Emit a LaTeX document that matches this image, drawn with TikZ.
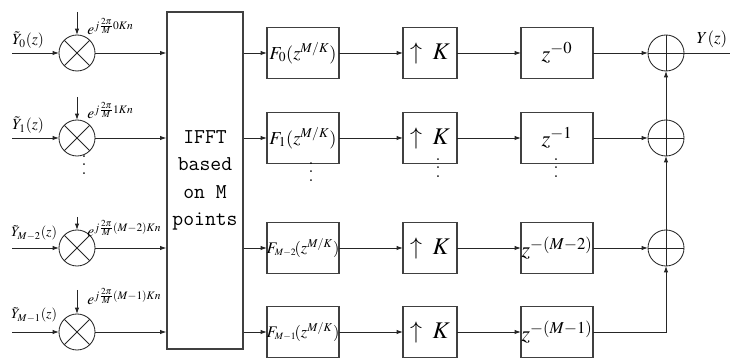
\documentclass[tikz,border=0pt]{standalone}
\usepackage{amsmath}
\usepackage{mathptmx}
\usetikzlibrary{arrows.meta, positioning}

\tikzset{
  line/.style={line width=0.6pt, black!85},
  arr/.style={line, -{Latex[length=1.6mm, width=1.1mm]}},
  blk/.style={draw=black!75, line width=0.8pt, minimum width=1.8cm, minimum height=1.275cm,
              inner sep=0pt, outer sep=0pt, font=\fontsize{13}{15}\selectfont},
  upblk/.style={blk, minimum width=1.35cm, font=\fontsize{17}{19}\selectfont},
  dlyblk/.style={blk, font=\fontsize{16}{18}\selectfont},
  mult/.style={circle, draw=black!85, line width=0.6pt, minimum size=0.9cm, inner sep=0pt, outer sep=0pt},
  adder/.style={mult},
  sig/.style={font=\fontsize{11}{13}\selectfont, inner sep=0pt, anchor=base west},
  expo/.style={font=\fontsize{11}{13}\selectfont, inner sep=0pt, anchor=base west},
  dots/.style={inner sep=0pt, font=\fontsize{13}{13}\selectfont}
}
\newcommand{\vdotsx}{\vbox{\baselineskip=6pt\lineskiplimit=0pt\hbox{.}\hbox{.}\hbox{.}}}

\begin{document}
\begin{tikzpicture}[x=0.025cm, y=-0.025cm]
\useasboundingbox (0,0) rectangle (732,359);

% --- Multipliers ---
\node[mult] (m0) at (77,53) {};
\node[mult] (m1) at (77,138) {};
\node[mult] (m2) at (77,248) {};
\node[mult] (m3) at (77,332) {};
\foreach \m in {m0,m1,m2,m3} {
  \draw[line] (\m.north west) -- (\m.south east);
  \draw[line] (\m.north east) -- (\m.south west);
}

% inputs
\coordinate (in0) at (12,53);
\coordinate (in1) at (12,138);
\coordinate (in2) at (12,248);
\coordinate (in3) at (12,332);
\node[sig] (y0) at (12,45) {$\tilde{Y}_0(z)$};
\node[sig] (y1) at (12,130) {$\tilde{Y}_1(z)$};
\node[sig, font=\fontsize{10}{12}\selectfont] (y2) at (11,237) {$\tilde{Y}_{M-2}(z)$};
\node[sig, font=\fontsize{10}{12}\selectfont] (y3) at (11,319) {$\tilde{Y}_{M-1}(z)$};
\draw[arr] (in0) -- (m0);
\draw[arr] (in1) -- (m1);
\draw[arr] (in2) -- (m2);
\draw[arr] (in3) -- (m3);

% exponentials
\coordinate (ex0) at (77,12);
\coordinate (ex1) at (77,97);
\coordinate (ex2) at (77,217);
\coordinate (ex3) at (77,290);
\draw[arr] (ex0) -- (m0);
\draw[arr] (ex1) -- (m1);
\draw[arr] (ex2) -- (m2);
\draw[arr] (ex3) -- (m3);
\node[expo] (e0) at (87,35) {$e^{j\frac{2\pi}{M}0Kn}$};
\node[expo] (e1) at (87,119) {$e^{j\frac{2\pi}{M}1Kn}$};
\node[expo] (e2) at (87,237) {$e^{j\frac{2\pi}{M}(M-2)Kn}$};
\node[expo] (e3) at (87,305) {$e^{j\frac{2\pi}{M}(M-1)Kn}$};

\node[dots] (v0) at (84,165) {\vdotsx};

% --- IFFT ---
\node[draw=black!75, line width=0.8pt, minimum width=1.9cm, minimum height=8.425cm,
      inner sep=0pt, align=center, font=\ttfamily\fontsize{15}{19.5}\selectfont]
      (ifft) at (205,180.5) {IFFT\\based\\on M\\points};
\draw[arr] (m0.east) -- (m0.east -| ifft.west);
\draw[arr] (m1.east) -- (m1.east -| ifft.west);
\draw[arr] (m2.east) -- (m2.east -| ifft.west);
\draw[arr] (m3.east) -- (m3.east -| ifft.west);

% --- Polyphase filters ---
\node[blk] (f0) at (303,53) {$F_0(z^{M/K})$};
\node[blk] (f1) at (303,138) {$F_1(z^{M/K})$};
\node[blk, font=\fontsize{11.5}{13}\selectfont] (f2) at (303,248)
     {\makebox[0pt]{$F_{\scriptscriptstyle M-2}\!(z^{M/K})$}};
\node[blk, font=\fontsize{11.5}{13}\selectfont] (f3) at (303,332)
     {\makebox[0pt]{$F_{\scriptscriptstyle M-1}\!(z^{M/K})$}};
\draw[arr] (f0.west -| ifft.east) -- (f0.west);
\draw[arr] (f1.west -| ifft.east) -- (f1.west);
\draw[arr] (f2.west -| ifft.east) -- (f2.west);
\draw[arr] (f3.west -| ifft.east) -- (f3.west);
\node[dots] (v1) at (311,172) {\vdotsx};

% --- Upsamplers ---
\node[upblk] (u0) at (430,53) {$\uparrow\;K$};
\node[upblk] (u1) at (430,138) {$\uparrow\;K$};
\node[upblk] (u2) at (430,248) {$\uparrow\;K$};
\node[upblk] (u3) at (430,332) {$\uparrow\;K$};
\draw[arr] (f0) -- (u0);
\draw[arr] (f1) -- (u1);
\draw[arr] (f2) -- (u2);
\draw[arr] (f3) -- (u3);
\node[dots] (v2) at (438,168) {\vdotsx};

% --- Delays ---
\node[dlyblk] (d0) at (557,53) {$z^{-0}$};
\node[dlyblk] (d1) at (557,138) {$z^{-1}$};
\node[dlyblk] (d2) at (557,248) {\makebox[0pt]{$z^{-(M-2)}$}};
\node[dlyblk] (d3) at (557,332) {\makebox[0pt]{$z^{-(M-1)}$}};
\draw[arr] (u0) -- (d0);
\draw[arr] (u1) -- (d1);
\draw[arr] (u2) -- (d2);
\draw[arr] (u3) -- (d3);
\node[dots] (v3) at (556,168) {\vdotsx};

% --- Adders ---
\node[adder] (s0) at (666,53) {};
\node[adder] (s1) at (666,138) {};
\node[adder] (s2) at (666,248) {};
\foreach \s in {s0,s1,s2} {
  \draw[line] (\s.north) -- (\s.south);
  \draw[line] (\s.west) -- (\s.east);
}
\draw[arr] (d0) -- (s0);
\draw[arr] (d1) -- (s1);
\draw[arr] (d2) -- (s2);
\draw[arr] (d3.east) -| (s2.south);
\draw[arr] (s2.north) -- (s1.south);
\draw[arr] (s1.north) -- (s0.south);

% output
\coordinate (out) at (730,53);
\draw[line] (s0.east) -- (out);
\node[font=\fontsize{12}{14}\selectfont, inner sep=0pt] (yout) at (712,39) {$Y(z)$};

\end{tikzpicture}
\end{document}
